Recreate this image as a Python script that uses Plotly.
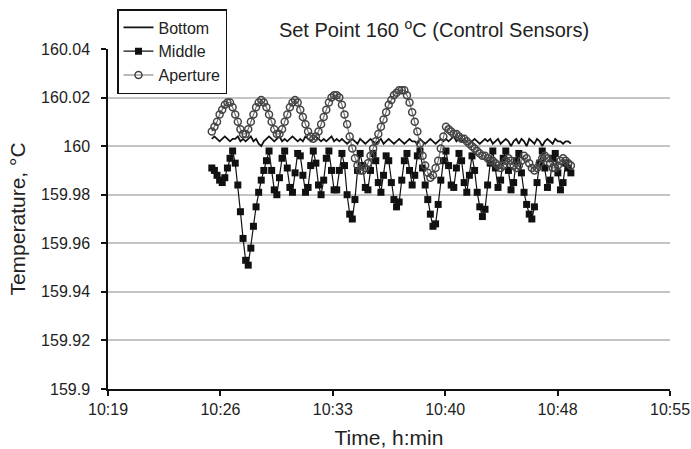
import plotly.graph_objects as go

# ---- data (minutes after 10:00, sampled every 10 s) ----
start_min = 25.85
step_min = 1 / 6

x_tick_vals = [19.2, 26.4, 33.6, 40.8, 48.0, 55.2]
x_tick_text = ["10:19", "10:26", "10:33", "10:40", "10:48", "10:55"]

y_tick_vals = [159.90, 159.92, 159.94, 159.96, 159.98, 160.00, 160.02, 160.04]
y_tick_text = ["159.9", "159.92", "159.94", "159.96", "159.98", "160", "160.02", "160.04"]
y_grid_vals = [159.92, 159.94, 159.96, 159.98, 160.00, 160.02]

bottom = [
    160.003, 160.004, 160.003, 160.002, 160.003, 160.004, 160.003, 160.002, 160.003, 160.003,
    160.004, 160.002, 160.003, 160.002, 160.003, 160.004, 160.002, 160.003, 160.001, 160.000,
    160.002, 160.003, 160.004, 160.003, 160.002, 160.003, 160.004, 160.002, 160.003, 160.002,
    160.003, 160.004, 160.003, 160.002, 160.003, 160.002, 160.004, 160.003, 160.002, 160.003,
    160.004, 160.003, 160.002, 160.003, 160.002, 160.003, 160.004, 160.002, 160.003, 160.002,
    160.003, 160.002, 160.001, 160.002, 160.003, 160.002, 160.001, 160.003, 160.002, 160.001,
    160.002, 160.003, 160.002, 160.001, 160.002, 160.003, 160.001, 160.002, 160.003, 160.002,
    160.001, 160.002, 160.003, 160.002, 160.001, 160.002, 160.003, 160.002, 160.002, 160.001,
    160.003, 160.002, 160.001, 160.002, 160.003, 160.002, 160.001, 160.002, 160.003, 160.002,
    160.003, 160.002, 160.003, 160.004, 160.002, 160.003, 160.002, 160.003, 160.002, 160.001,
    160.002, 160.003, 160.002, 160.001, 160.002, 160.003, 160.002, 160.003, 160.001, 160.002,
    160.003, 160.001, 160.002, 160.003, 160.002, 160.000, 160.002, 160.003, 160.001, 160.003,
    160.002, 160.000, 160.003, 160.002, 160.001, 160.003, 160.002, 160.000, 160.002, 160.003,
    160.002, 160.001, 160.003, 160.002, 160.002, 160.001, 160.002, 160.002, 160.001,
]

middle = [
    159.991, 159.990, 159.988, 159.986, 159.985, 159.987, 159.991, 159.995, 159.998, 159.993,
    159.984, 159.973, 159.962, 159.953, 159.951, 159.958, 159.967, 159.975, 159.981, 159.986,
    159.990, 159.994, 159.998, 159.990, 159.982, 159.980, 159.987, 159.995, 159.998, 159.991,
    159.983, 159.981, 159.989, 159.997, 159.996, 159.988, 159.981, 159.983, 159.992, 159.998,
    159.993, 159.984, 159.980, 159.986, 159.995, 159.998, 159.990, 159.982, 159.982, 159.990,
    159.997, 159.992, 159.980, 159.972, 159.970, 159.978, 159.990, 159.997, 159.992, 159.983,
    159.982, 159.990, 159.997, 159.994, 159.985, 159.981, 159.988, 159.996, 159.994, 159.985,
    159.978, 159.975, 159.977, 159.986, 159.994, 159.997, 159.990, 159.984, 159.988, 159.996,
    159.998, 159.991, 159.984, 159.978, 159.972, 159.967, 159.968, 159.976, 159.986, 159.994,
    159.998, 159.992, 159.984, 159.983, 159.991, 159.997, 159.994, 159.985, 159.981, 159.988,
    159.996, 159.990, 159.981, 159.975, 159.971, 159.974, 159.984, 159.993, 159.998, 159.991,
    159.983, 159.986, 159.995, 159.998, 159.990, 159.982, 159.985, 159.994, 159.997, 159.989,
    159.981, 159.976, 159.972, 159.970, 159.975, 159.985, 159.993, 159.998, 159.991, 159.983,
    159.986, 159.995, 159.997, 159.989, 159.982, 159.985, 159.993, 159.991, 159.989,
]

aperture = [
    160.006, 160.008, 160.010, 160.013, 160.015, 160.017, 160.018, 160.018, 160.016, 160.013,
    160.010, 160.007, 160.005, 160.005, 160.007, 160.010, 160.013, 160.016, 160.018, 160.019,
    160.018, 160.016, 160.013, 160.010, 160.007, 160.005, 160.005, 160.007, 160.010, 160.013,
    160.016, 160.018, 160.019, 160.018, 160.015, 160.012, 160.009, 160.006, 160.004, 160.003,
    160.004, 160.006, 160.009, 160.012, 160.015, 160.018, 160.020, 160.021, 160.021, 160.020,
    160.017, 160.013, 160.009, 160.004, 159.999, 159.995, 159.992, 159.990, 159.990, 159.991,
    159.993, 159.996, 159.999, 160.002, 160.005, 160.008, 160.011, 160.014, 160.017, 160.019,
    160.021, 160.022, 160.023, 160.023, 160.023, 160.021, 160.018, 160.014, 160.010, 160.006,
    160.001, 159.996, 159.992, 159.989, 159.987, 159.988, 159.991, 159.994, 159.999, 160.004,
    160.008, 160.007, 160.006, 160.005, 160.005, 160.004, 160.003, 160.003, 160.002, 160.001,
    160.000, 159.999, 159.998, 159.997, 159.996, 159.996, 159.995, 159.994, 159.994, 159.993,
    159.992, 159.991, 159.992, 159.994, 159.995, 159.994, 159.992, 159.991, 159.992, 159.994,
    159.996, 159.995, 159.993, 159.991, 159.990, 159.991, 159.993, 159.995, 159.996, 159.995,
    159.993, 159.991, 159.991, 159.992, 159.994, 159.995, 159.994, 159.993, 159.992,
]


def times(series):
    return [start_min + i * step_min for i in range(len(series))]


fig = go.Figure()
fig.add_trace(go.Scatter(
    x=times(bottom), y=bottom, name="Bottom", mode="lines",
    line=dict(color="#111111", width=1.8),
))
fig.add_trace(go.Scatter(
    x=times(middle), y=middle, name="Middle", mode="lines+markers",
    line=dict(color="#111111", width=1.2),
    marker=dict(symbol="square", size=7, color="#111111"),
))
fig.add_trace(go.Scatter(
    x=times(aperture), y=aperture, name="Aperture", mode="lines+markers",
    line=dict(color="#777777", width=1.2),
    marker=dict(symbol="circle-open", size=7, color="#444444", line=dict(width=1.5)),
))

font_family = "Liberation Sans, Arial, sans-serif"
fig.update_layout(
    width=691, height=449,
    margin=dict(l=108, r=21, t=49, b=60, autoexpand=False),
    paper_bgcolor="white", plot_bgcolor="white",
    font=dict(family=font_family, size=16, color="#222222"),
    title=dict(text="Set Point 160 <sup>o</sup>C (Control Sensors)",
               x=434 / 691, xanchor="center", y=1 - 30 / 449, yanchor="middle",
               font=dict(size=20, color="#222222")),
    showlegend=True,
    legend=dict(x=(117 - 108) / 562, y=(389 - 9) / 340, xanchor="left", yanchor="top",
                bgcolor="white", bordercolor="#111111", borderwidth=1.5,
                font=dict(size=16), itemwidth=30, tracegroupgap=0),
    xaxis=dict(range=[19.2, 55.2], tickmode="array", tickvals=x_tick_vals, ticktext=x_tick_text,
               showline=True, linecolor="#111111", linewidth=1.5, mirror=False,
               ticks="outside", ticklen=5, tickcolor="#111111", tickwidth=1.5,
               showgrid=False, zeroline=False, automargin=False,
               title=dict(text="Time, h:min", font=dict(size=21), standoff=14)),
    yaxis=dict(range=[159.9, 160.04], tickmode="array", tickvals=y_tick_vals, ticktext=y_tick_text,
               showline=True, linecolor="#111111", linewidth=1.5,
               ticks="outside", ticklen=5, tickcolor="#111111", tickwidth=1.5,
               ticklabelstandoff=8, automargin=False,
               showgrid=False, zeroline=False,
               minor=dict(tickmode="array", tickvals=y_grid_vals, showgrid=True,
                          gridcolor="#c4c4c4", gridwidth=1.5, ticks=""),
               title=dict(text="Temperature, °C", font=dict(size=21), standoff=10)),
)

fig.write_html("out.html")
